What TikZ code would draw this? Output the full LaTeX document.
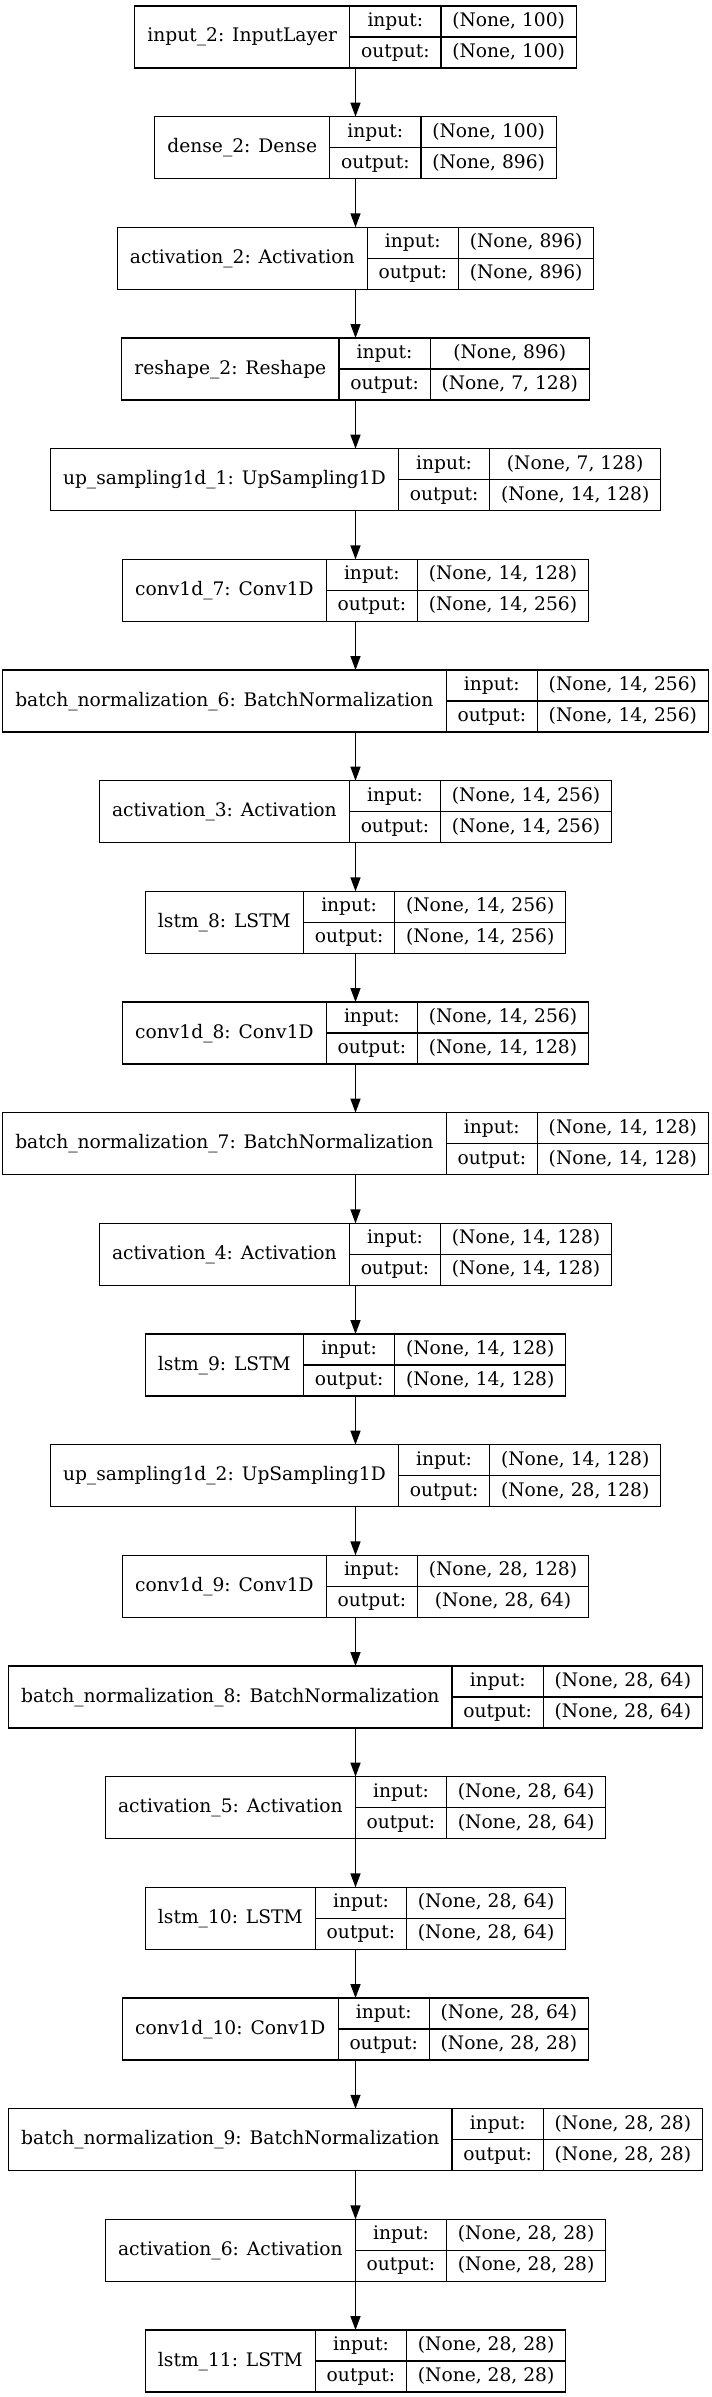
\documentclass[tikz,border=0pt]{standalone}
\usepackage{fontspec}
\setmainfont{DejaVu Serif}
\usetikzlibrary{arrows.meta}

\font\layerfont="DejaVu Serif" at 14pt
\newlength\namew \newlength\valw \newlength\valwb \newlength\labw \newlength\boxw

% one record: id, name, input shape, output shape, row
\newcommand\layer[5]{%
  \settowidth\namew{\layerfont #2}\addtolength\namew{19pt}%
  \settowidth\valw{\layerfont #3}\settowidth\valwb{\layerfont #4}%
  \ifdim\valwb>\valw \valw=\valwb\fi \addtolength\valw{17pt}%
  \settowidth\labw{\layerfont output:}\addtolength\labw{17pt}%
  \setlength\boxw{\namew}\addtolength\boxw{\labw}\addtolength\boxw{\valw}%
  \coordinate (#1-t) at (355.5,{-6-#5*110.67});
  \coordinate (#1-b) at (355.5,{-68-#5*110.67});
  \node[namecell, minimum width=\namew, anchor=west] (#1) at ([xshift=-0.5\boxw]355.5,{-37-#5*110.67}) {#2};
  \node[cell, minimum width=\labw, anchor=north west] (#1-i) at (#1.north east) {input:};
  \node[cell, minimum width=\labw, anchor=north west] (#1-o) at (#1-i.south west) {output:};
  \node[cell, minimum width=\valw, anchor=north west] (#1-iv) at (#1-i.north east) {#3};
  \node[cell, minimum width=\valw, anchor=north west] (#1-ov) at (#1-iv.south west) {#4};
}

\begin{document}
\begin{tikzpicture}[x=0.75pt, y=0.75pt]
\tikzset{every node/.style={draw, line width=1pt, inner sep=0pt, outer sep=0pt, font=\layerfont, text height=10.5pt, text depth=3pt},
  namecell/.style={minimum height=46.5pt},
  cell/.style={minimum height=23.25pt},
  arr/.style={line width=1pt, -{Triangle[length=10.5pt, width=7.5pt]}}}
\useasboundingbox (0,0) rectangle (711,-2397);
\layer{inp}{input\_2: InputLayer}{(None, 100)}{(None, 100)}{0}
\layer{dns}{dense\_2: Dense}{(None, 100)}{(None, 896)}{1}
\layer{act2}{activation\_2: Activation}{(None, 896)}{(None, 896)}{2}
\layer{rsh}{reshape\_2: Reshape}{(None, 896)}{(None, 7, 128)}{3}
\layer{up1}{up\_sampling1d\_1: UpSampling1D}{(None, 7, 128)}{(None, 14, 128)}{4}
\layer{cv7}{conv1d\_7: Conv1D}{(None, 14, 128)}{(None, 14, 256)}{5}
\layer{bn6}{batch\_normalization\_6: BatchNormalization}{(None, 14, 256)}{(None, 14, 256)}{6}
\layer{act3}{activation\_3: Activation}{(None, 14, 256)}{(None, 14, 256)}{7}
\layer{ls8}{lstm\_8: LSTM}{(None, 14, 256)}{(None, 14, 256)}{8}
\layer{cv8}{conv1d\_8: Conv1D}{(None, 14, 256)}{(None, 14, 128)}{9}
\layer{bn7}{batch\_normalization\_7: BatchNormalization}{(None, 14, 128)}{(None, 14, 128)}{10}
\layer{act4}{activation\_4: Activation}{(None, 14, 128)}{(None, 14, 128)}{11}
\layer{ls9}{lstm\_9: LSTM}{(None, 14, 128)}{(None, 14, 128)}{12}
\layer{up2}{up\_sampling1d\_2: UpSampling1D}{(None, 14, 128)}{(None, 28, 128)}{13}
\layer{cv9}{conv1d\_9: Conv1D}{(None, 28, 128)}{(None, 28, 64)}{14}
\layer{bn8}{batch\_normalization\_8: BatchNormalization}{(None, 28, 64)}{(None, 28, 64)}{15}
\layer{act5}{activation\_5: Activation}{(None, 28, 64)}{(None, 28, 64)}{16}
\layer{ls10}{lstm\_10: LSTM}{(None, 28, 64)}{(None, 28, 64)}{17}
\layer{cv10}{conv1d\_10: Conv1D}{(None, 28, 64)}{(None, 28, 28)}{18}
\layer{bn9}{batch\_normalization\_9: BatchNormalization}{(None, 28, 28)}{(None, 28, 28)}{19}
\layer{act6}{activation\_6: Activation}{(None, 28, 28)}{(None, 28, 28)}{20}
\layer{ls11}{lstm\_11: LSTM}{(None, 28, 28)}{(None, 28, 28)}{21}
\foreach \a/\b in {inp/dns, dns/act2, act2/rsh, rsh/up1, up1/cv7, cv7/bn6, bn6/act3, act3/ls8,
    ls8/cv8, cv8/bn7, bn7/act4, act4/ls9, ls9/up2, up2/cv9, cv9/bn8, bn8/act5, act5/ls10,
    ls10/cv10, cv10/bn9, bn9/act6, act6/ls11}
  \draw[arr] (\a-b) -- (\b-t);
\end{tikzpicture}
\end{document}
